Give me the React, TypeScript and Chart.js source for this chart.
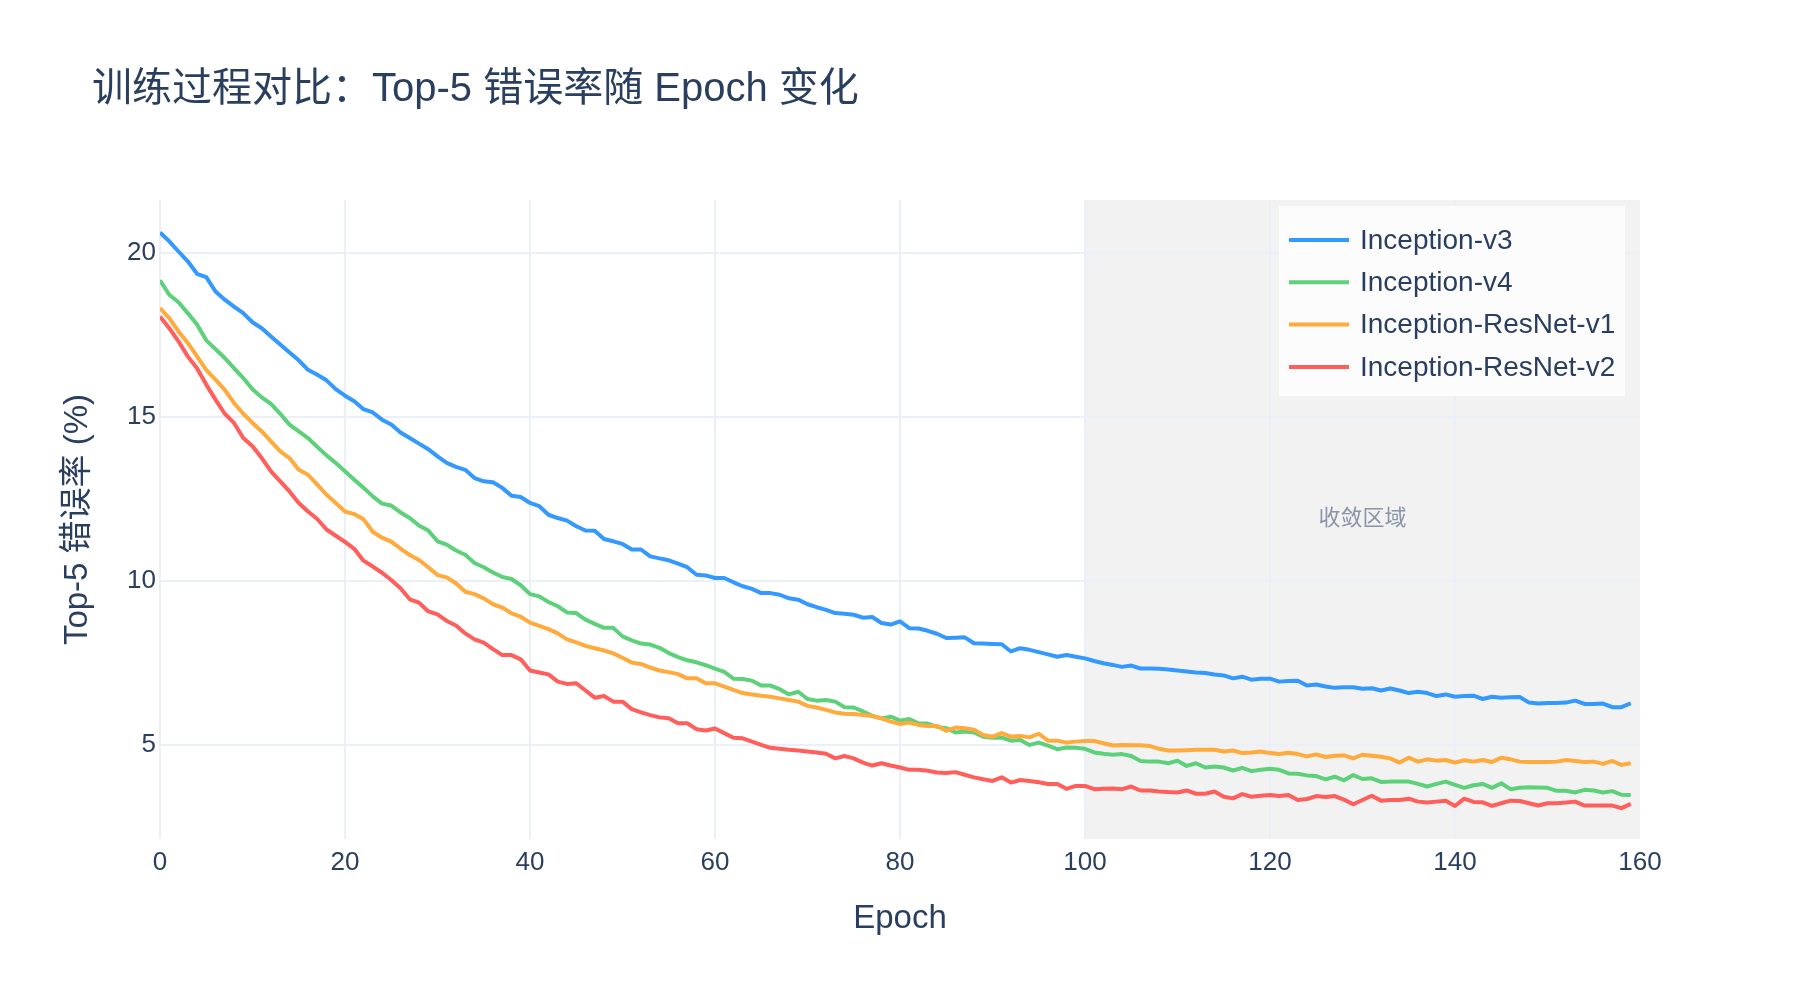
import React, { useEffect, useRef } from "react";
import { Chart, registerables } from "chart.js";

Chart.register(...registerables);

const FONT = '"Liberation Sans", "Noto Sans CJK SC", Arial, sans-serif';
const TEXT = "#2a3f5f";

const chartTitle = "训练过程对比：Top-5 错误率随 Epoch 变化";
const xTitle = "Epoch";
const yTitle = "Top-5 错误率 (%)";
const shadeLabel = "收敛区域";
const shadeStart = 100;
const shadeEnd = 160;
const shadeLabelX = 130;
const shadeLabelY = 11.9;

const xTicks = [0, 20, 40, 60, 80, 100, 120, 140, 160];
const yTicks = [5, 10, 15, 20];

const seriesNames = ["Inception-v3", "Inception-v4", "Inception-ResNet-v1", "Inception-ResNet-v2"];
const seriesColors = ["#3399ff", "#5cd17a", "#ffaa3b", "#ff5e5b"];

const inceptionV3 = [
  20.63, 20.36, 20.05, 19.75, 19.37, 19.27, 18.83, 18.58, 18.37, 18.17,
  17.89, 17.71, 17.46, 17.21, 16.97, 16.73, 16.44, 16.29, 16.12, 15.85,
  15.65, 15.48, 15.24, 15.14, 14.92, 14.77, 14.53, 14.36, 14.19, 14.02,
  13.8, 13.6, 13.48, 13.39, 13.14, 13.04, 13.01, 12.84, 12.6, 12.56,
  12.38, 12.28, 12.02, 11.92, 11.84, 11.67, 11.54, 11.53, 11.28, 11.21,
  11.13, 10.96, 10.96, 10.75, 10.69, 10.63, 10.53, 10.42, 10.19, 10.17,
  10.09, 10.09, 9.96, 9.84, 9.76, 9.63, 9.63, 9.58, 9.47, 9.43,
  9.29, 9.2, 9.12, 9.02, 9.0, 8.97, 8.88, 8.9, 8.72, 8.67,
  8.77, 8.56, 8.55, 8.48, 8.39, 8.26, 8.27, 8.28, 8.1, 8.09,
  8.08, 8.07, 7.85, 7.95, 7.9, 7.83, 7.76, 7.69, 7.74, 7.69,
  7.64, 7.56, 7.49, 7.44, 7.38, 7.42, 7.33, 7.33, 7.32, 7.3,
  7.27, 7.24, 7.21, 7.19, 7.15, 7.12, 7.03, 7.08, 6.99, 7.02,
  7.02, 6.93, 6.95, 6.96, 6.81, 6.84, 6.78, 6.74, 6.76, 6.76,
  6.71, 6.73, 6.66, 6.72, 6.66, 6.58, 6.62, 6.58, 6.49, 6.54,
  6.47, 6.49, 6.5, 6.4, 6.47, 6.44, 6.45, 6.46, 6.29, 6.26,
  6.28, 6.28, 6.29, 6.35, 6.25, 6.25, 6.26, 6.15, 6.15, 6.27,
];

const inceptionV4 = [
  19.17, 18.73, 18.5, 18.17, 17.82, 17.34, 17.07, 16.8, 16.49, 16.19,
  15.85, 15.6, 15.4, 15.1, 14.77, 14.56, 14.36, 14.09, 13.83, 13.6,
  13.35, 13.09, 12.84, 12.58, 12.36, 12.3, 12.09, 11.92, 11.69, 11.54,
  11.21, 11.11, 10.93, 10.8, 10.55, 10.42, 10.26, 10.12, 10.06, 9.87,
  9.6, 9.53, 9.36, 9.23, 9.04, 9.02, 8.82, 8.69, 8.57, 8.57,
  8.31, 8.19, 8.09, 8.06, 7.96, 7.8, 7.68, 7.58, 7.52, 7.43,
  7.33, 7.23, 7.02, 7.01, 6.96, 6.81, 6.81, 6.7, 6.54, 6.62,
  6.4, 6.35, 6.37, 6.32, 6.15, 6.14, 6.02, 5.89, 5.81, 5.86,
  5.74, 5.79, 5.66, 5.65, 5.55, 5.51, 5.38, 5.41, 5.38, 5.25,
  5.22, 5.22, 5.13, 5.15, 5.0, 5.07, 4.98, 4.87, 4.92, 4.91,
  4.88, 4.77, 4.73, 4.7, 4.72, 4.66, 4.51, 4.49, 4.49, 4.44,
  4.52, 4.36, 4.44, 4.31, 4.34, 4.31, 4.22, 4.3, 4.2, 4.24,
  4.27, 4.24, 4.13, 4.12, 4.07, 4.05, 3.95, 4.03, 3.92, 4.08,
  3.96, 3.98, 3.87, 3.88, 3.88, 3.88, 3.81, 3.73, 3.81, 3.88,
  3.78, 3.69, 3.77, 3.81, 3.69, 3.83, 3.65, 3.69, 3.71, 3.7,
  3.69, 3.6, 3.6, 3.55, 3.63, 3.61, 3.55, 3.59, 3.48, 3.47,
];

const inceptionResNetV1 = [
  18.32, 18.02, 17.61, 17.26, 16.85, 16.44, 16.14, 15.83, 15.43, 15.1,
  14.82, 14.56, 14.26, 13.95, 13.75, 13.39, 13.24, 12.94, 12.63, 12.38,
  12.12, 12.04, 11.88, 11.5, 11.32, 11.2, 10.99, 10.79, 10.64, 10.42,
  10.18, 10.11, 9.93, 9.67, 9.6, 9.47, 9.29, 9.19, 9.01, 8.91,
  8.73, 8.63, 8.53, 8.4, 8.22, 8.13, 8.02, 7.95, 7.88, 7.79,
  7.66, 7.51, 7.47, 7.36, 7.27, 7.22, 7.16, 7.03, 7.03, 6.88,
  6.88, 6.78, 6.68, 6.58, 6.54, 6.5, 6.47, 6.42, 6.37, 6.32,
  6.19, 6.14, 6.07, 5.99, 5.95, 5.94, 5.91, 5.88, 5.81, 5.71,
  5.64, 5.68, 5.61, 5.58, 5.58, 5.43, 5.53, 5.51, 5.46, 5.3,
  5.25, 5.36, 5.25, 5.27, 5.23, 5.34, 5.13, 5.13, 5.07, 5.1,
  5.12, 5.12, 5.05, 4.98, 5.0, 4.99, 4.99, 4.97, 4.88, 4.83,
  4.83, 4.84, 4.85, 4.85, 4.85, 4.8, 4.83, 4.75, 4.77, 4.8,
  4.75, 4.72, 4.76, 4.72, 4.65, 4.71, 4.63, 4.67, 4.68, 4.59,
  4.7, 4.67, 4.64, 4.59, 4.46, 4.61, 4.49, 4.56, 4.52, 4.54,
  4.46, 4.53, 4.49, 4.54, 4.48, 4.61, 4.56, 4.49, 4.48, 4.48,
  4.48, 4.49, 4.54, 4.51, 4.48, 4.49, 4.42, 4.51, 4.39, 4.44,
];

const inceptionResNetV2 = [
  18.07, 17.71, 17.31, 16.85, 16.49, 15.99, 15.53, 15.1, 14.82, 14.36,
  14.11, 13.75, 13.34, 13.04, 12.73, 12.38, 12.12, 11.89, 11.57, 11.38,
  11.19, 10.98, 10.62, 10.44, 10.25, 10.03, 9.78, 9.44, 9.34, 9.07,
  8.98, 8.78, 8.64, 8.4, 8.22, 8.12, 7.92, 7.74, 7.74, 7.61,
  7.27, 7.21, 7.15, 6.93, 6.86, 6.88, 6.66, 6.44, 6.49, 6.32,
  6.32, 6.09, 5.99, 5.91, 5.84, 5.81, 5.66, 5.66, 5.48, 5.44,
  5.5, 5.36, 5.22, 5.2, 5.1, 5.0, 4.91, 4.88, 4.85, 4.83,
  4.8, 4.77, 4.73, 4.59, 4.66, 4.59, 4.46, 4.37, 4.44, 4.37,
  4.31, 4.24, 4.24, 4.21, 4.16, 4.14, 4.17, 4.09, 4.01, 3.95,
  3.9, 4.01, 3.85, 3.93, 3.9, 3.86, 3.81, 3.81, 3.66, 3.75,
  3.75, 3.65, 3.66, 3.67, 3.65, 3.73, 3.61, 3.61, 3.58, 3.56,
  3.55, 3.61, 3.51, 3.51, 3.58, 3.42, 3.37, 3.5, 3.42, 3.45,
  3.47, 3.44, 3.47, 3.32, 3.35, 3.44, 3.41, 3.44, 3.33, 3.19,
  3.32, 3.45, 3.3, 3.32, 3.32, 3.36, 3.27, 3.24, 3.27, 3.3,
  3.14, 3.36, 3.26, 3.25, 3.14, 3.22, 3.3, 3.29, 3.22, 3.15,
  3.22, 3.22, 3.24, 3.27, 3.15, 3.15, 3.15, 3.15, 3.07, 3.2,
];

const seriesValues = [inceptionV3, inceptionV4, inceptionResNetV1, inceptionResNetV2];

const decorPlugin = {
  id: "decor",
  beforeDraw(chart: any) {
    const { ctx, chartArea, scales } = chart;
    const x0 = scales.x.getPixelForValue(shadeStart);
    const x1 = scales.x.getPixelForValue(shadeEnd);
    ctx.save();
    ctx.fillStyle = "rgba(128,128,128,0.1)";
    ctx.fillRect(x0, chartArea.top, x1 - x0, chartArea.bottom - chartArea.top);
    ctx.restore();
  },
  afterDraw(chart: any) {
    const { ctx, scales } = chart;
    ctx.save();
    // title
    ctx.fillStyle = TEXT;
    ctx.font = `40px ${FONT}`;
    ctx.textAlign = "left";
    ctx.textBaseline = "middle";
    ctx.fillText(chartTitle, 92, 90);

    // annotation
    ctx.fillStyle = "#8a94a6";
    ctx.font = `22px ${FONT}`;
    ctx.textAlign = "center";
    ctx.fillText(shadeLabel, scales.x.getPixelForValue(shadeLabelX), scales.y.getPixelForValue(shadeLabelY));

    // legend
    const bx = 1279, by = 206, bw = 346, bh = 190;
    ctx.fillStyle = "rgba(255,255,255,0.8)";
    ctx.fillRect(bx, by, bw, bh);
    ctx.font = `28px ${FONT}`;
    ctx.textAlign = "left";
    seriesNames.forEach((name, i) => {
      const cy = 240 + i * 42.3;
      ctx.strokeStyle = seriesColors[i];
      ctx.lineWidth = 4;
      ctx.beginPath();
      ctx.moveTo(1289, cy);
      ctx.lineTo(1349, cy);
      ctx.stroke();
      ctx.fillStyle = TEXT;
      ctx.fillText(name, 1360, cy + 1);
    });
    ctx.restore();
  },
};

export default function App() {
  const canvasRef = useRef<HTMLCanvasElement | null>(null);

  useEffect(() => {
    if (!canvasRef.current) return;
    const datasets = seriesValues.map((vals, i) => ({
      label: seriesNames[i],
      data: vals.map((v, e) => ({ x: e, y: v })),
      borderColor: seriesColors[i],
      backgroundColor: seriesColors[i],
      borderWidth: 4,
      pointRadius: 0,
      tension: 0,
      fill: false,
      borderJoinStyle: "round" as const,
      order: 4 - i,
    }));

    const chart = new Chart(canvasRef.current, {
      type: "line",
      data: { datasets },
      plugins: [decorPlugin],
      options: {
        animation: false,
        responsive: true,
        maintainAspectRatio: false,
        devicePixelRatio: 1,
        layout: { padding: { top: 200, right: 160, left: 0, bottom: 0 } },
        plugins: {
          legend: { display: false },
          title: { display: false },
          tooltip: { enabled: false },
        },
        scales: {
          x: {
            type: "linear",
            min: 0,
            max: 160,
            afterBuildTicks: (s: any) => {
              s.ticks = xTicks.map((v) => ({ value: v }));
            },
            afterFit: (s: any) => {
              s.height = 161;
            },
            border: { display: false },
            grid: {
              color: (c: any) => (c.tick && c.tick.value === 160 ? "rgba(0,0,0,0)" : "#ebf0f8"),
              lineWidth: 2,
              drawTicks: false,
            },
            ticks: {
              color: TEXT,
              font: { size: 26, family: FONT },
              padding: 8,
              maxRotation: 0,
              autoSkip: false,
            },
            title: {
              display: true,
              text: xTitle,
              color: TEXT,
              font: { size: 33, family: FONT },
              padding: { top: 0, bottom: 61 },
            },
          },
          y: {
            type: "linear",
            min: 2.13,
            max: 21.62,
            afterBuildTicks: (s: any) => {
              s.ticks = yTicks.map((v) => ({ value: v }));
            },
            afterFit: (s: any) => {
              s.width = 160;
            },
            border: { display: false },
            grid: { color: "#ebf0f8", lineWidth: 2, drawTicks: false },
            ticks: {
              color: TEXT,
              font: { size: 26, family: FONT },
              padding: 4,
            },
            title: {
              display: true,
              text: yTitle,
              color: TEXT,
              font: { size: 33, family: FONT },
              padding: { top: 58, bottom: 0 },
            },
          },
        },
      },
    });
    return () => chart.destroy();
  }, []);

  return (
    <div style={{ position: "absolute", left: 0, top: 0, width: 1800, height: 1000, background: "#fff" }}>
      <canvas ref={canvasRef} />
    </div>
  );
}
